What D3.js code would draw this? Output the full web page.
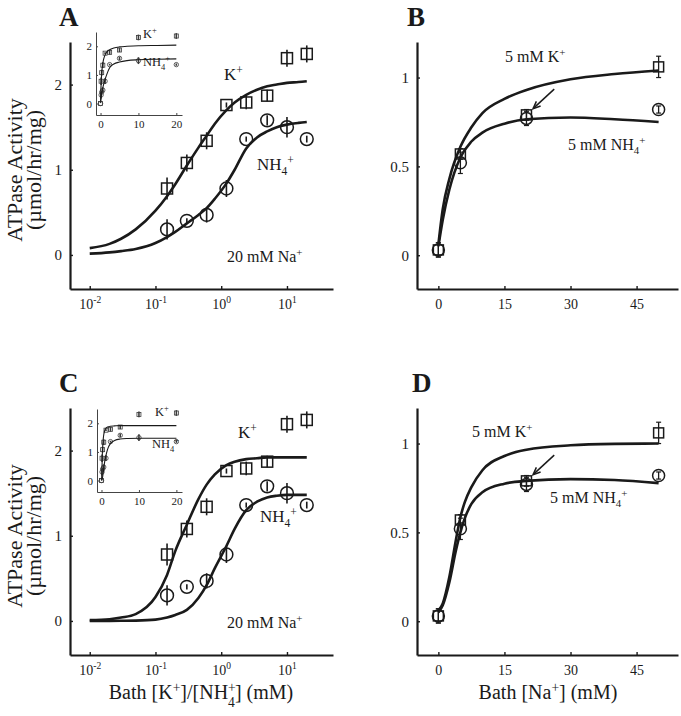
<!DOCTYPE html>
<html><head><meta charset="utf-8">
<script src="https://cdn.jsdelivr.net/npm/d3@7"></script>
<style>
body{margin:0;background:#fff}
svg{display:block}
text{font-family:"Liberation Serif","Times New Roman",serif;fill:#1a1a1a}
</style>
</head><body>
<svg id="chart" width="681" height="716"></svg>
<script>
// ---------------- data ----------------
const concK = [0, 0.15, 0.3, 0.6, 1.2, 2.4, 5, 10, 20];          // mM K+/NH4+
const kAct  = [0, 0.78, 1.08, 1.34, 1.76, 1.79, 1.87, 2.31, 2.36];
const kErr  = [0, 0.13, 0.10, 0.10, 0.03, 0.08, 0.07, 0.10, 0.10];
const nhAct = [0, 0.30, 0.40, 0.47, 0.78, 1.36, 1.58, 1.50, 1.36];
const nhErr = [0, 0.12, 0.03, 0.09, 0.10, 0.03, 0.06, 0.12, 0.04];

const fitConc = [0.01,0.02,0.03,0.05,0.1,0.15,0.2,0.3,0.45,0.6,0.8,1.2,1.6,2.4,3.5,5,7,10,15,20];
const fitKA   = [0.08,0.13,0.19,0.30,0.52,0.69,0.83,1.05,1.26,1.40,1.54,1.70,1.79,1.88,1.94,1.98,2.00,2.02,2.03,2.04];
const fitNhA  = [0.015,0.03,0.045,0.07,0.14,0.21,0.27,0.37,0.47,0.55,0.66,0.84,1.00,1.25,1.38,1.45,1.50,1.53,1.55,1.56];
const fitKC   = [0.01,0.02,0.04,0.08,0.28,0.54,0.82,1.13,1.43,1.60,1.72,1.83,1.87,1.90,1.91,1.92,1.92,1.92,1.92,1.92];
const fitNhC  = [0.0,0.001,0.002,0.004,0.015,0.04,0.07,0.13,0.27,0.42,0.62,0.88,1.08,1.30,1.40,1.45,1.47,1.48,1.48,1.48];

const concNa  = [0, 5, 20, 50];                                    // mM Na+
const kActNa  = [0.03, 0.57, 0.79, 1.06];
const kErrNa  = [0.04, 0.03, 0.03, 0.06];
const nhActNa = [0.03, 0.52, 0.77, 0.82];
const nhErrNa = [0.04, 0.06, 0.04, 0.02];

const fitNaB  = [0,1,2.5,5,7.5,10,15,20,30,40,50];
const fitKB   = [0.06,0.26,0.43,0.61,0.72,0.80,0.88,0.93,0.99,1.02,1.04];
const fitNhB  = [0.05,0.20,0.37,0.55,0.64,0.69,0.74,0.765,0.775,0.765,0.75];
const fitNaD  = [0,1,2.5,4,5,6,7.5,10,15,20,30,40,50];
const fitKD   = [0.06,0.10,0.25,0.46,0.585,0.67,0.755,0.85,0.93,0.965,0.99,0.998,1.0];
const fitNhD  = [0.05,0.09,0.22,0.40,0.50,0.58,0.66,0.726,0.774,0.79,0.80,0.795,0.777];

const arrowNa  = [26.3, 21.5];   // tail x, tip x (mM Na+)
const arrowAct = [0.935, 0.825]; // tail y, tip y

const logTicks   = [0.01, 0.1, 1, 10];
const logExps    = ["-2", "-1", "0", "1"];
const naTicks    = [0, 15, 30, 45];
const actTicksKC = [0, 1, 2];
const actTicksNa = [0, 0.5, 1];
const insetTicks = [0, 10, 20];

// ---------------- helpers ----------------
const svg = d3.select("#chart");
const INK = "#1a1a1a";
const SERIF = "Liberation Serif, Times New Roman, serif";
const fmt = d3.format("");

function rich(g, x, y, parts, size, anchor) {
  const t = g.append("text").attr("x", x).attr("y", y).attr("font-size", size)
    .attr("text-anchor", anchor || "start");
  let cur = 0;
  parts.forEach(p => {
    const [txt, kind, dx, offOverride] = p;
    let off = kind === "sup" ? -0.38 * size : kind === "sub" ? 0.28 * size : 0;
    if (offOverride !== undefined) off = offOverride * size;
    const ts = t.append("tspan").attr("dy", off - cur)
      .attr("font-size", kind === "n" ? size : size * 0.68).text(txt);
    if (dx) ts.attr("dx", dx);
    cur = off;
  });
  return t;
}

function styleAxis(ax) {
  ax.attr("font-family", SERIF);
  ax.select(".domain").attr("stroke", INK).attr("stroke-width", 2.2);
  ax.selectAll(".tick line").attr("stroke", INK).attr("stroke-width", 1.4);
  ax.selectAll(".tick text").attr("fill", INK).attr("font-family", SERIF);
}

function errbars(g, xs, ys, es, x, y, cap) {
  xs.forEach((c, i) => {
    const px = x(c);
    g.append("line").attr("x1", px).attr("x2", px)
      .attr("y1", y(ys[i] - es[i])).attr("y2", y(ys[i] + es[i]))
      .attr("stroke", INK).attr("stroke-width", cap ? 1.3 : 1.6);
    if (cap) {
      [ys[i] - es[i], ys[i] + es[i]].forEach(v => {
        g.append("line").attr("x1", px - cap).attr("x2", px + cap)
          .attr("y1", y(v)).attr("y2", y(v)).attr("stroke", INK).attr("stroke-width", 1.2);
      });
    }
  });
}
function squares(g, xs, ys, x, y, s, sw) {
  xs.forEach((c, i) => g.append("rect").attr("x", x(c) - s / 2).attr("y", y(ys[i]) - s / 2)
    .attr("width", s).attr("height", s).attr("fill", "none").attr("stroke", INK).attr("stroke-width", sw));
}
function circles(g, xs, ys, x, y, r, sw) {
  xs.forEach((c, i) => g.append("circle").attr("cx", x(c)).attr("cy", y(ys[i])).attr("r", r)
    .attr("fill", "none").attr("stroke", INK).attr("stroke-width", sw));
}
function curve(g, xs, ys, x, y, sw) {
  const line = d3.line().x(d => x(d[0])).y(d => y(d[1])).curve(d3.curveMonotoneX);
  g.append("path").attr("d", line(xs.map((c, i) => [c, ys[i]])))
    .attr("fill", "none").attr("stroke", INK).attr("stroke-width", sw).attr("stroke-linejoin", "round");
}

// ---------------- K+/NH4+ panels (A, C) ----------------
function logPanel(oy, letter, fitK, fitNh, L) {
  const g = svg.append("g");
  const x = d3.scaleLog().domain([Math.pow(10, -2.3), Math.pow(10, 1.7)]).range([70, 333]);
  const y = d3.scaleLinear().domain([-0.4, 2.5]).range([289 + oy, 42 + oy]);

  const xa = g.append("g").attr("transform", `translate(0,${289 + oy})`)
    .call(d3.axisBottom(x).tickValues(logTicks).tickSizeInner(-3).tickSizeOuter(0).tickPadding(7).tickFormat(() => ""));
  styleAxis(xa);
  xa.selectAll(".tick text").each(function (d, i) {
    const t = d3.select(this).attr("font-size", 14).attr("dy", "0.9em");
    t.append("tspan").text("10");
    t.append("tspan").attr("dy", -6).attr("font-size", 9.5).text(logExps[i]);
  });
  const ya = g.append("g").attr("transform", "translate(70,0)")
    .call(d3.axisLeft(y).tickValues(actTicksKC).tickSizeInner(-3).tickSizeOuter(0).tickPadding(8).tickFormat(fmt));
  styleAxis(ya);
  ya.selectAll(".tick text").attr("font-size", 15);

  const pos = concK.map((c, i) => i).filter(i => concK[i] > 0);
  const px = pos.map(i => concK[i]);
  curve(g, fitConc, fitK, x, y, 2.6);
  curve(g, fitConc, fitNh, x, y, 2.6);
  errbars(g, px, pos.map(i => kAct[i]), pos.map(i => kErr[i]), x, y, 0);
  errbars(g, px, pos.map(i => nhAct[i]), pos.map(i => nhErr[i]), x, y, 0);
  squares(g, px, pos.map(i => kAct[i]), x, y, 11, 1.5);
  circles(g, px, pos.map(i => nhAct[i]), x, y, 6.4, 1.5);

  g.append("text").attr("x", 59).attr("y", 26 + oy).attr("font-size", 27).attr("font-weight", "bold").text(letter);
  rich(g, L.kx, L.ky + oy, [["K", "n"], ["+", "sup"]], 17);
  rich(g, L.nx, L.ny + oy, [["NH", "n"], ["4", "sub"], ["+", "sup"]], 17);
  rich(g, L.sx, L.sy + oy, [["20 mM Na", "n"], ["+", "sup"]], 16);

  // y-axis title
  const yt = g.append("g").attr("transform", `translate(22,${170 + oy}) rotate(-90)`);
  yt.append("text").attr("text-anchor", "middle").attr("font-size", 22).text("ATPase Activity");
  yt.append("text").attr("y", 19).attr("text-anchor", "middle").attr("font-size", 22).text("(\u00b5mol/hr/mg)");

  // inset
  const I = L.inset;
  const ix = d3.scaleLinear().domain([-1.2, 21.5]).range([I.l, 182]);
  const iy = d3.scaleLinear().domain([-0.4, 2.5]).range([I.b, I.b - 83]);
  const ixa = g.append("g").attr("transform", `translate(0,${I.b})`)
    .call(d3.axisBottom(ix).tickValues(insetTicks).tickSizeInner(-2).tickSizeOuter(0).tickPadding(5).tickFormat(fmt));
  const iya = g.append("g").attr("transform", `translate(${I.l},0)`)
    .call(d3.axisLeft(iy).tickValues(actTicksKC).tickSizeInner(-2).tickSizeOuter(0).tickPadding(4).tickFormat(fmt));
  [ixa, iya].forEach(a => {
    a.attr("font-family", SERIF);
    a.select(".domain").attr("stroke", "#444").attr("stroke-width", 1);
    a.selectAll(".tick line").attr("stroke", "#444");
    a.selectAll(".tick text").attr("font-size", 11).attr("font-family", SERIF).attr("fill", "#333");
  });
  curve(g, fitConc, fitK, ix, iy, 1.1);
  curve(g, fitConc, fitNh, ix, iy, 1.1);
  const ig = g.append("g").attr("opacity", 0.85);
  errbars(ig, concK, kAct, kErr, ix, iy, 0);
  errbars(ig, concK, nhAct, nhErr, ix, iy, 0);
  squares(ig, concK, kAct, ix, iy, 4, 0.8);
  circles(ig, concK, nhAct, ix, iy, 2.2, 0.8);
  rich(g, I.kx, I.ky, [["K", "n"], ["+", "sup"]], 12.5);
  rich(g, I.nx, I.ny, [["NH", "n"], ["4", "sub"], ["+", "sup"]], 12.5);
}

// ---------------- Na+ panels (B, D) ----------------
function naPanel(oy, letter, fitX, fitK, fitNh, L) {
  const g = svg.append("g");
  const x = d3.scaleLinear().domain([-4.85, 54.4]).range([417, 678]);
  const y = d3.scaleLinear().domain([-0.19, 1.2]).range([289 + oy, 42 + oy]);
  const xa = g.append("g").attr("transform", `translate(0,${289 + oy})`)
    .call(d3.axisBottom(x).tickValues(naTicks).tickSizeInner(-3).tickSizeOuter(0).tickPadding(7).tickFormat(fmt));
  styleAxis(xa);
  xa.selectAll(".tick text").attr("font-size", 14).attr("dy", "0.9em");
  const ya = g.append("g").attr("transform", "translate(417,0)")
    .call(d3.axisLeft(y).tickValues(actTicksNa).tickSizeInner(-3).tickSizeOuter(0).tickPadding(8).tickFormat(fmt));
  styleAxis(ya);
  ya.selectAll(".tick text").attr("font-size", 15);

  curve(g, fitX, fitK, x, y, 2.6);
  curve(g, fitX, fitNh, x, y, 2.6);
  errbars(g, concNa, kActNa, kErrNa, x, y, 2.5);
  errbars(g, concNa, nhActNa, nhErrNa, x, y, 2.5);
  squares(g, concNa, kActNa, x, y, 10, 1.5);
  circles(g, concNa, nhActNa, x, y, 6, 1.5);

  // arrow
  const x1 = x(arrowNa[0]), y1 = y(arrowAct[0]), x2 = x(arrowNa[1]), y2 = y(arrowAct[1]);
  g.append("line").attr("x1", x1).attr("y1", y1).attr("x2", x2).attr("y2", y2)
    .attr("stroke", INK).attr("stroke-width", 1.5);
  const ang = Math.atan2(y2 - y1, x2 - x1), hl = 8;
  const p = [[x2 - hl * Math.cos(ang - 0.4), y2 - hl * Math.sin(ang - 0.4)], [x2, y2],
             [x2 - hl * Math.cos(ang + 0.4), y2 - hl * Math.sin(ang + 0.4)]];
  g.append("path").attr("d", d3.line()(p)).attr("fill", "none").attr("stroke", INK).attr("stroke-width", 1.5);

  g.append("text").attr("x", L.lx).attr("y", 26 + oy).attr("font-size", 27).attr("font-weight", "bold").text(letter);
  rich(g, L.kx, L.ky + oy, [["5 mM K", "n"], ["+", "sup"]], 16);
  rich(g, L.nx, L.ny + oy, [["5 mM NH", "n"], ["4", "sub"], ["+", "sup"]], 16);
}

logPanel(0, "A", fitKA, fitNhA, {kx: 224, ky: 80, nx: 257, ny: 170, sx: 227, sy: 262,
  inset: {l: 96, b: 115, kx: 143, ky: 38, nx: 143, ny: 66}});
logPanel(366, "C", fitKC, fitNhC, {kx: 238, ky: 72, nx: 260, ny: 156, sx: 227, sy: 262,
  inset: {l: 97, b: 492, kx: 155, ky: 416, nx: 152, ny: 448}});
naPanel(0, "B", fitNaB, fitKB, fitNhB, {lx: 407, kx: 505, ky: 62, nx: 568, ny: 150});
naPanel(366, "D", fitNaD, fitKD, fitNhD, {lx: 412, kx: 472, ky: 71, nx: 550, ny: 137});

// x-axis titles
const bt = svg.append("g");
rich(bt, 201, 699, [["Bath [K", "n"], ["+", "sup", 0, -0.34], ["]/[NH", "n"], ["+", "sup", 0, -0.34], ["4", "sub", -7.7, 0.42], ["] (mM)", "n"]], 20, "middle");
rich(bt, 548, 699, [["Bath [Na", "n"], ["+", "sup", 0, -0.34], ["] (mM)", "n"]], 20, "middle");
</script>
</body></html>
